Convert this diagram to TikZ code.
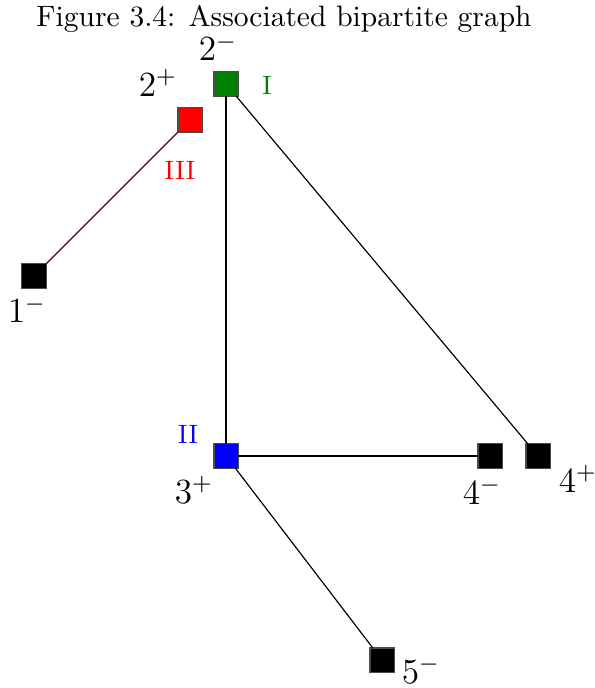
\documentclass[tikz,border=0pt]{standalone}
\usepackage{xcolor}
\definecolor{dkgreen}{rgb}{0,0.5,0}
\definecolor{edgered}{rgb}{0.33,0,0}
\begin{document}
\begin{tikzpicture}[x=0.339pt,y=-0.339pt,
  vtx/.style={draw=black!70,line width=0.4pt,minimum size=8.2pt,inner sep=0pt,outer sep=0pt},
  lbl/.style={anchor=base,inner sep=0pt,font=\large},
  rom/.style={anchor=base,inner sep=0pt,font=\small},
  edge/.style={line width=0.4pt,black}]
\useasboundingbox (0,0) rectangle (595,688);
\node[anchor=base,inner sep=0pt] (title) at (284,27) {Figure 3.4: Associated bipartite graph};
\node[vtx,fill=dkgreen] (m2) at (226,84) {};
\node[vtx,fill=red] (p2) at (190,120) {};
\node[vtx,fill=black] (m1) at (34,276) {};
\node[vtx,fill=blue] (p3) at (226,456) {};
\node[vtx,fill=black] (m4) at (490,456) {};
\node[vtx,fill=black] (p4) at (538,456) {};
\node[vtx,fill=black] (m5) at (382,660) {};
\draw[edge,edgered] (p2) -- (m1);
\draw[edge] (m2) -- (p3);
\draw[edge] (m2) -- (p4);
\draw[edge] (p3) -- (m4);
\draw[edge] (p3) -- (m5);
\node[lbl] (lm2) at (218,61) {$2^-$};
\node[lbl] (lp2) at (158,96.5) {$2^+$};
\node[lbl] (lm1) at (27,323) {$1^-$};
\node[lbl] (lp3) at (194,503) {$3^+$};
\node[lbl] (lm4) at (482,504) {$4^-$};
\node[lbl] (lp4) at (578,492) {$4^+$};
\node[lbl] (lm5) at (421,683) {$5^-$};
\node[rom,text=dkgreen] (rI) at (267,95) {I};
\node[rom,text=red] (rIII) at (180,180) {III};
\node[rom,text=blue] (rII) at (188,443) {II};
\end{tikzpicture}
\end{document}
